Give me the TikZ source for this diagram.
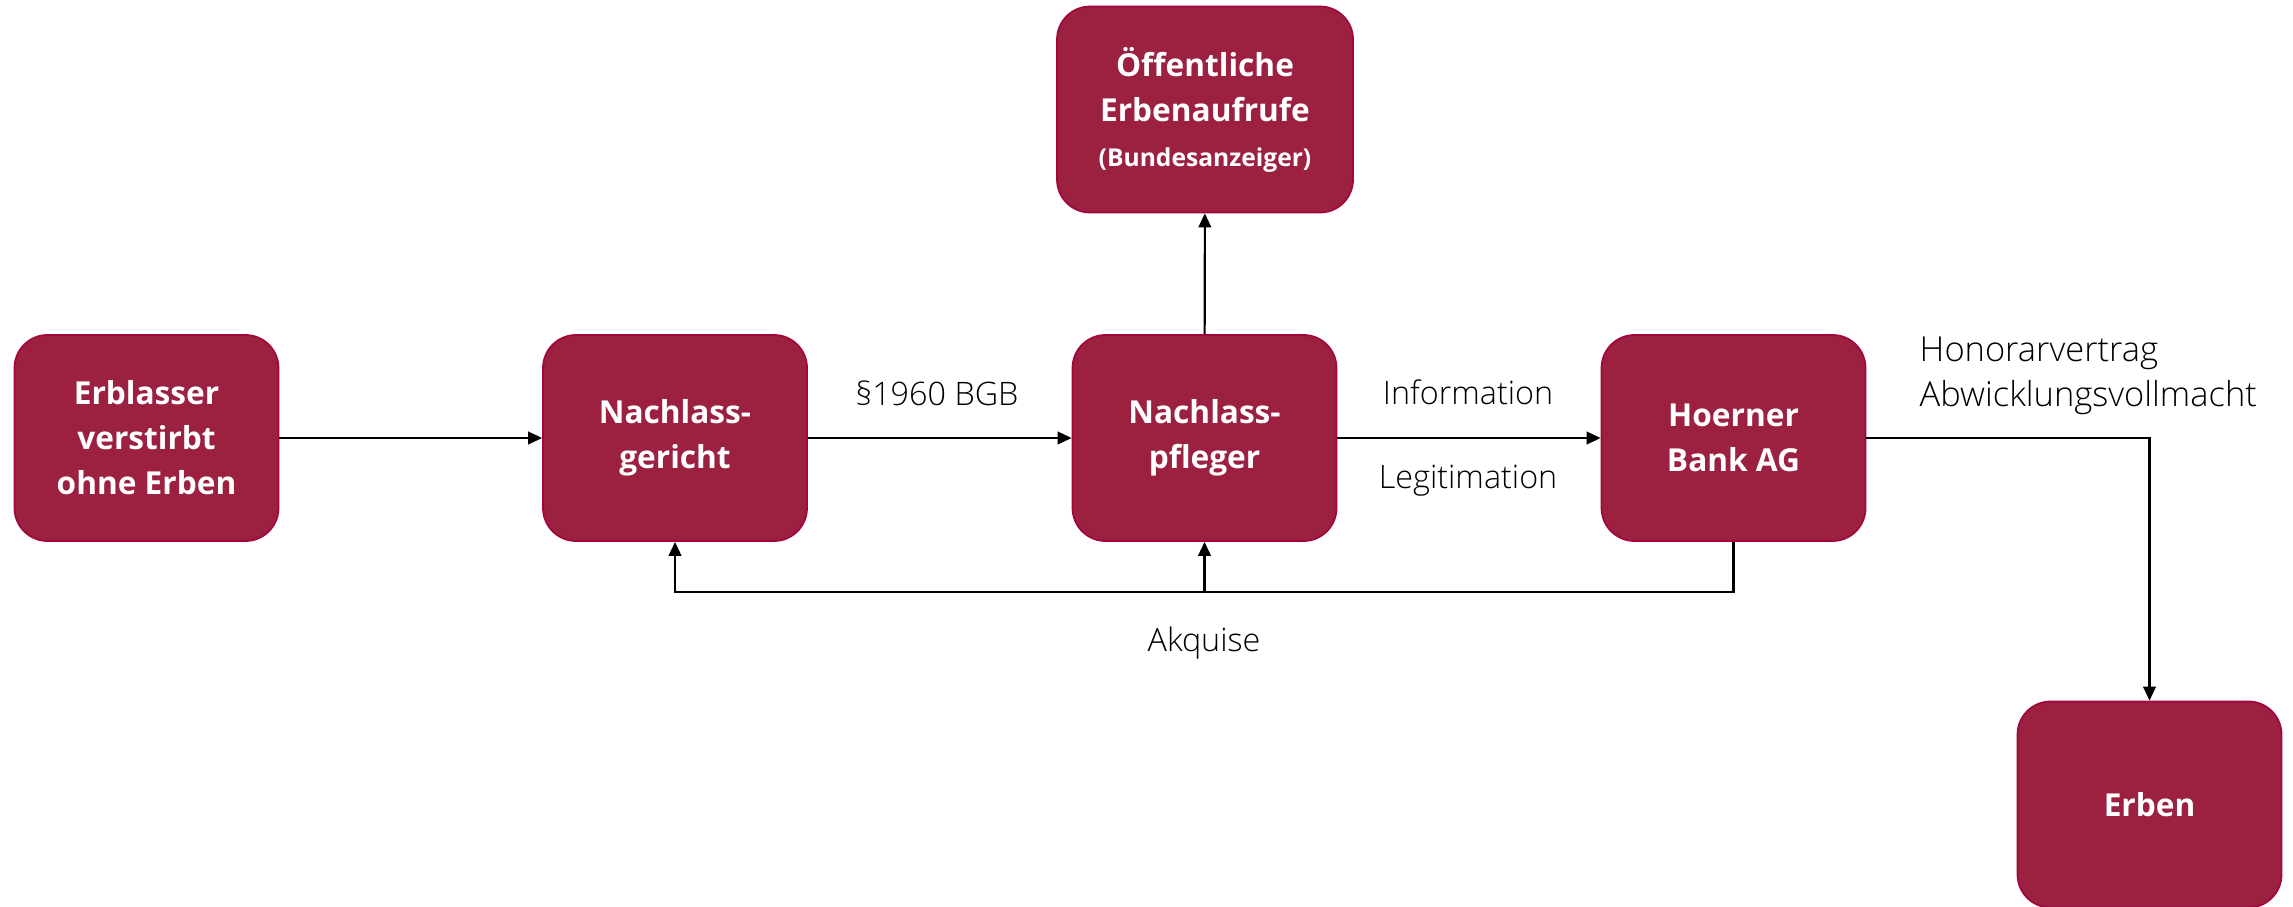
\documentclass[tikz,border=0pt]{standalone}
\usepackage{fontspec}
\setmainfont{Open Sans}
\newfontfamily\lightfont{Open Sans Light}
\usetikzlibrary{arrows.meta,positioning}
\definecolor{boxred}{HTML}{9C2141}
\definecolor{boxline}{HTML}{A3063C}

\begin{document}
\begin{tikzpicture}[
        box/.style={rectangle, rounded corners=3.3mm, draw=boxline, line width=0.5pt, fill=boxred,
            text=white, font=\bfseries\fontsize{9}{12.8}\selectfont, align=center,
            minimum width=2.64cm, minimum height=2.06cm, inner sep=0pt},
        arrow/.style={-{Triangle[length=4pt,width=3.6pt]}, line width=0.6pt},
        lbl/.style={font=\lightfont\fontsize{9.2}{12.6}\selectfont, inner sep=0pt}
    ]
        \useasboundingbox (0,0) rectangle (22.93,-9.07);

        % Kästen
        \node [box] (erblasser) at (1.465,-4.38) {Erblasser\\verstirbt\\ohne Erben};
        \node [box] (gericht) at (6.75,-4.38) {Nachlass-\\gericht};
        \node [box] (pfleger) at (12.045,-4.38) {Nachlass-\\pfleger};
        \node [box] (bank) at (17.335,-4.38) {Hoerner\\Bank AG};
        \node [box, minimum width=2.96cm] (aufrufe) at (12.05,-1.095)
            {Öffentliche\\Erbenaufrufe\\{\fontsize{7}{10}\selectfont (Bundesanzeiger)}};
        \node [box] (erben) at (21.495,-8.045) {Erben};

        % Beschriftungen
        \node [lbl] (bgb) at (9.37,-3.93) {§1960 BGB};
        \node [lbl] (info) at (14.68,-3.92) {Information};
        \node [lbl] (legit) at (14.68,-4.81) {Legitimation};
        \node [lbl, anchor=west, align=left, font=\lightfont\fontsize{9.8}{12.8}\selectfont] (vertrag)
            at (19.19,-3.76) {Honorarvertrag\\Abwicklungsvollmacht};
        \node [lbl] (akquise) at (12.04,-6.43) {Akquise};

        % Verbindungen
        \coordinate (akq) at (12.045,-5.92);
        \draw[arrow] (erblasser) -- (gericht);
        \draw[arrow] (gericht) -- (pfleger);
        \draw[arrow] (pfleger) -- (bank);
        \draw[arrow] (pfleger) -- (aufrufe);
        \draw[arrow] (bank.east) -| (erben.north);
        \draw[arrow] (bank.south) |- (akq) -| (gericht.south);
        \draw[arrow] (akq) -- (pfleger.south);
    \end{tikzpicture}
\end{document}
